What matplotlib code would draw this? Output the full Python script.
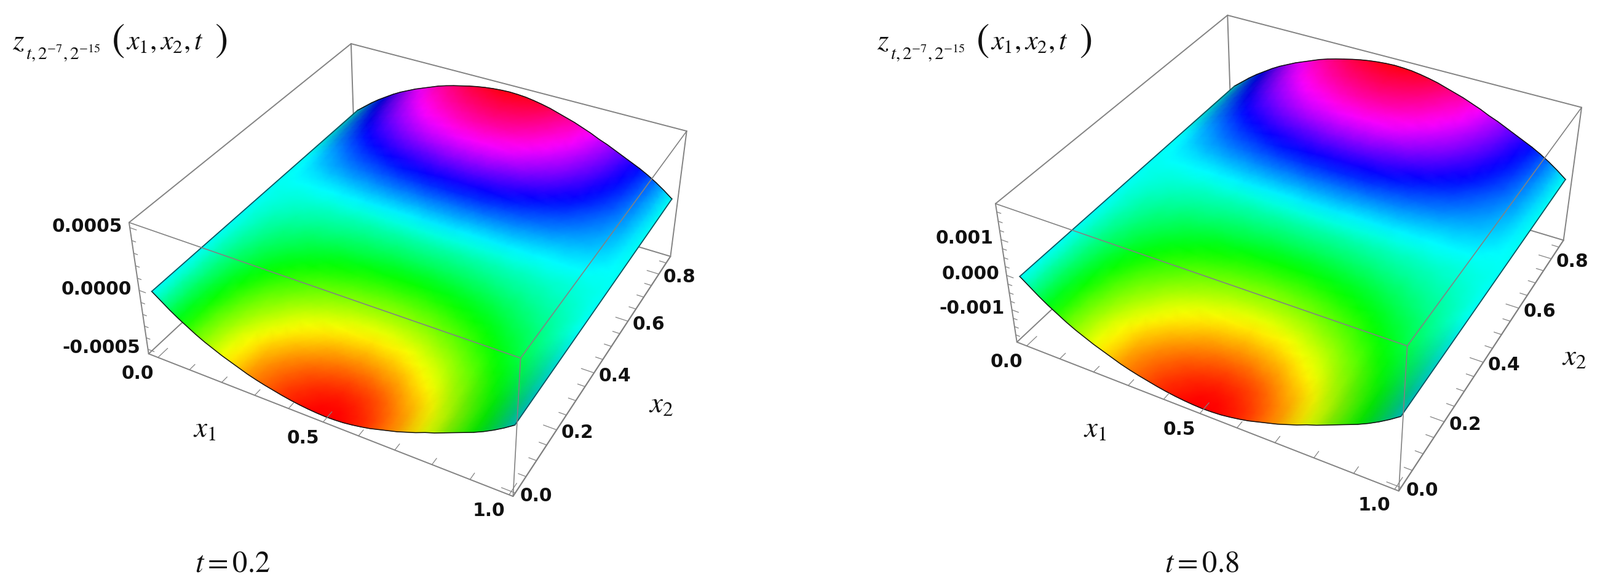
import numpy as np
import matplotlib
matplotlib.use('Agg')
import matplotlib.pyplot as plt

plt.rcParams['mathtext.fontset'] = 'stix'

# surface: z = amplitude * x1_shape * x2_shape
x1_grid = [0.0, 0.025, 0.05, 0.075, 0.1, 0.125, 0.15, 0.175, 0.2, 0.225, 0.25, 0.275, 0.3, 0.325,
           0.35, 0.375, 0.4, 0.425, 0.45, 0.475, 0.5, 0.525, 0.55, 0.575, 0.6, 0.625, 0.65, 0.675,
           0.7, 0.725, 0.75, 0.775, 0.8, 0.825, 0.85, 0.875, 0.9, 0.925, 0.95, 0.975, 1.0]
x1_shape = [0.0, 0.10, 0.2, 0.29, 0.37, 0.45, 0.52, 0.58, 0.64, 0.69, 0.74, 0.79, 0.83, 0.865,
            0.895, 0.925, 0.95, 0.97, 0.985, 0.995, 1.0, 0.995, 0.985, 0.965, 0.94, 0.91, 0.87, 0.83,
            0.79, 0.74, 0.69, 0.63, 0.58, 0.52, 0.46, 0.4, 0.34, 0.27, 0.19, 0.1, 0.0]
x2_grid = [0.0, 0.025, 0.05, 0.075, 0.1, 0.125, 0.15, 0.175, 0.2, 0.225, 0.25, 0.275, 0.3, 0.325,
           0.35, 0.375, 0.4, 0.425, 0.45, 0.475, 0.5, 0.525, 0.55, 0.575, 0.6, 0.625, 0.65, 0.675,
           0.7, 0.725, 0.75, 0.775, 0.8, 0.825, 0.85, 0.86]
x2_shape = [-1.0, -0.99, -0.97, -0.94, -0.9, -0.85, -0.8, -0.745, -0.69, -0.63, -0.57, -0.51, -0.45, -0.39,
            -0.33, -0.27, -0.21, -0.155, -0.1, -0.03, 0.04, 0.12, 0.21, 0.3, 0.38, 0.46, 0.54, 0.62,
            0.69, 0.75, 0.81, 0.86, 0.91, 0.95, 0.99, 1.0]

amplitude_a = 0.00052
amplitude_b = 0.00192

x1_ticks = [0.0, 0.1, 0.2, 0.3, 0.4, 0.5, 0.6, 0.7, 0.8, 0.9, 1.0]
x1_major = [0.0, 0.5, 1.0]
x1_labels = ['0.0', '0.5', '1.0']
x2_ticks = [0.0, 0.05, 0.1, 0.15, 0.2, 0.25, 0.3, 0.35, 0.4, 0.45, 0.5,
            0.55, 0.6, 0.65, 0.7, 0.75, 0.8, 0.85]
x2_major = [0.0, 0.2, 0.4, 0.6, 0.8]
x2_labels = ['0.0', '0.2', '0.4', '0.6', '0.8']

z_ticks_a = [-0.0005, -0.0004, -0.0003, -0.0002, -0.0001, 0.0, 0.0001, 0.0002, 0.0003, 0.0004, 0.0005]
z_major_a = [-0.0005, 0.0, 0.0005]
z_labels_a = ['-0.0005', '0.0000', '0.0005']
z_ticks_b = [-0.00175, -0.0015, -0.00125, -0.001, -0.00075, -0.0005, -0.00025, 0.0,
             0.00025, 0.0005, 0.00075, 0.001, 0.00125, 0.0015, 0.00175]
z_major_b = [-0.001, 0.0, 0.001]
z_labels_b = ['-0.001', '0.000', '0.001']

x1_lim = (-0.03, 1.01)
x2_lim = (-0.01, 0.88)

# where the box corners sit in the image, used to calibrate the camera
unit_corners = [(0, 0, 1), (0, 1, 1), (1, 1, 1), (1, 0, 1), (0, 0, 0), (1, 0, 0), (1, 1, 0)]
box_a = [(210, 362), (571, 71), (1117, 213), (846, 582), (241.5, 575), (835, 807), (1090, 417)]
box_b = [(1619, 330), (1996, 25), (2572, 175), (2289, 563), (1654, 557), (2274, 798), (2543, 390)]

GRAY = '#828282'
INK = '#111111'


def fit_camera(corners):
    rows = []
    for (u, v, w), (px, py) in zip(unit_corners, corners):
        rows.append([u, v, w, 1, 0, 0, 0, 0, -px * u, -px * v, -px * w, -px])
        rows.append([0, 0, 0, 0, u, v, w, 1, -py * u, -py * v, -py * w, -py])
    _, _, vt = np.linalg.svd(np.array(rows, dtype=float))
    return vt[-1].reshape(3, 4)


def draw_panel(ax, corners, amp, zlim, z_ticks, z_major, z_labels):
    cam = fit_camera(corners)

    def project(x1, x2, z):
        x1, x2, z = np.broadcast_arrays(np.asarray(x1, float), np.asarray(x2, float), np.asarray(z, float))
        u = (x1 - x1_lim[0]) / (x1_lim[1] - x1_lim[0])
        v = (x2 - x2_lim[0]) / (x2_lim[1] - x2_lim[0])
        w = (z - zlim[0]) / (zlim[1] - zlim[0])
        pts = np.stack([u, v, w, np.ones_like(u)], axis=-1) @ cam.T
        return pts[..., 0] / pts[..., 2], pts[..., 1] / pts[..., 2]

    def line(p, q, zorder, color=GRAY, lw=1.4):
        xs = [np.array([p[i], q[i]]) for i in range(3)]
        ax.plot(*project(*xs), color=color, lw=lw, zorder=zorder, solid_capstyle='round')

    x0, x1 = x1_lim
    y0, y1 = x2_lim
    z0, z1 = zlim

    # back of the box, behind the surface
    line((x0, y1, z1), (x0, y1, z0), 1)
    line((x0, y1, z0), (x1, y1, z0), 1)
    line((x0, y1, z0), (x0, y0, z0), 1)
    line((x0, y1, z1), (x0, y0, z1), 1)
    line((x0, y1, z1), (x1, y1, z1), 1)
    line((x1, y1, z1), (x1, y1, z0), 1)
    line((x1, y1, z0), (x1, y0, z0), 1)
    line((x0, y0, z1), (x0, y0, z0), 1)
    line((x0, y0, z0), (x1, y0, z0), 1)

    # surface, hue follows height, darker where it tips away from the light
    gx1, gx2 = np.meshgrid(x1_grid, x2_grid, indexing='ij')
    gz = amp * np.outer(x1_shape, x2_shape)
    X, Y = project(gx1, gx2, gz)
    rgba = plt.cm.hsv((gz + amp) / (2 * amp))
    slope = np.gradient(gz / amp, x1_grid, axis=0)
    shade = 1 - 0.12 * np.clip(slope - 1.6, 0, None)
    rgba[..., :3] *= shade[..., None]
    ax.pcolormesh(X, Y, rgba, shading='gouraud', zorder=2)
    ax.plot(X[:, 0], Y[:, 0], color='#101010', lw=1.1, zorder=3)
    ax.plot(X[:, -1], Y[:, -1], color='#101010', lw=1.1, zorder=3)
    ax.plot(X[0, :], Y[0, :], color='#0b5560', lw=1.3, zorder=3)
    ax.plot(X[-1, :], Y[-1, :], color='#0b5560', lw=1.3, zorder=3)

    # front of the box passes over the surface
    line((x0, y0, z1), (x1, y0, z1), 4, lw=1.2)
    line((x1, y0, z1), (x1, y1, z1), 4, lw=1.2)
    line((x1, y0, z1), (x1, y0, z0), 4, lw=1.2)
    line((x1, y0, z0), (x1, y1, z0), 4)

    # ticks
    for t in x1_ticks:
        d = 0.035 if t in x1_major else 0.02
        line((t, y0, z0), (t, y0 + d, z0), 4, lw=0.9)
    for t in x2_ticks:
        d = 0.035 if t in x2_major else 0.02
        line((x1, t, z0), (x1 - d, t, z0), 4, lw=0.9)
    for t in z_ticks:
        d = 0.02 if t in z_major else 0.012
        line((x0, y0, t), (x0 + d, y0, t), 4, lw=0.9)

    # tick labels
    font = dict(fontsize=21.5, fontweight='bold', color=INK, family='DejaVu Sans', zorder=6)
    for t, s in zip(x1_major, x1_labels):
        px, py = project(t, y0, z0)
        ax.text(px - 33, py + 26, s, ha='center', va='center', **font)
    for t, s in zip(x2_major, x2_labels):
        px, py = project(x1, t, z0)
        ax.text(px + 34, py + 5, s, ha='center', va='center', **font)
    for t, s in zip(z_major, z_labels):
        px, py = project(x0, y0, t)
        ax.text(px - 12, py - 2, s, ha='right', va='center', **font)


def panel_title(ax, dx):
    ax.text(20 + dx, 80, r'$z$', fontsize=34, ha='left', va='baseline', color=INK)
    ax.text(42 + dx, 97, r'$t,2^{-7},2^{-15}$', fontsize=21, ha='left', va='baseline', color=INK)
    ax.text(192 + dx, 66, r'$($', fontsize=46, ha='center', va='center', color=INK)
    ax.text(205 + dx, 80, r'$x_1,x_2,t$', fontsize=32, ha='left', va='baseline', color=INK)
    ax.text(359 + dx, 66, r'$)$', fontsize=46, ha='center', va='center', color=INK)


fig = plt.figure(figsize=(26.02, 9.56), dpi=100)
ax = fig.add_axes([0, 0, 1, 1])

draw_panel(ax, box_a, amplitude_a, (-0.00054, 0.00054), z_ticks_a, z_major_a, z_labels_a)
draw_panel(ax, box_b, amplitude_b, (-0.00197, 0.00197), z_ticks_b, z_major_b, z_labels_b)

ax.set_xlim(0, 2602)
ax.set_ylim(956, 0)
ax.axis('off')

panel_title(ax, 0)
panel_title(ax, 1406)
ax.text(333, 698, r'$x_1$', fontsize=34, ha='center', va='center', color=INK)
ax.text(1781, 698, r'$x_1$', fontsize=34, ha='center', va='center', color=INK)
ax.text(1075, 658, r'$x_2$', fontsize=34, ha='center', va='center', color=INK)
ax.text(2560, 581, r'$x_2$', fontsize=34, ha='center', va='center', color=INK)
ax.text(378, 916, r'$t=0.2$', fontsize=35, ha='center', va='center', color=INK)
ax.text(1955, 916, r'$t=0.8$', fontsize=35, ha='center', va='center', color=INK)

fig.savefig('out.png', dpi=100)
